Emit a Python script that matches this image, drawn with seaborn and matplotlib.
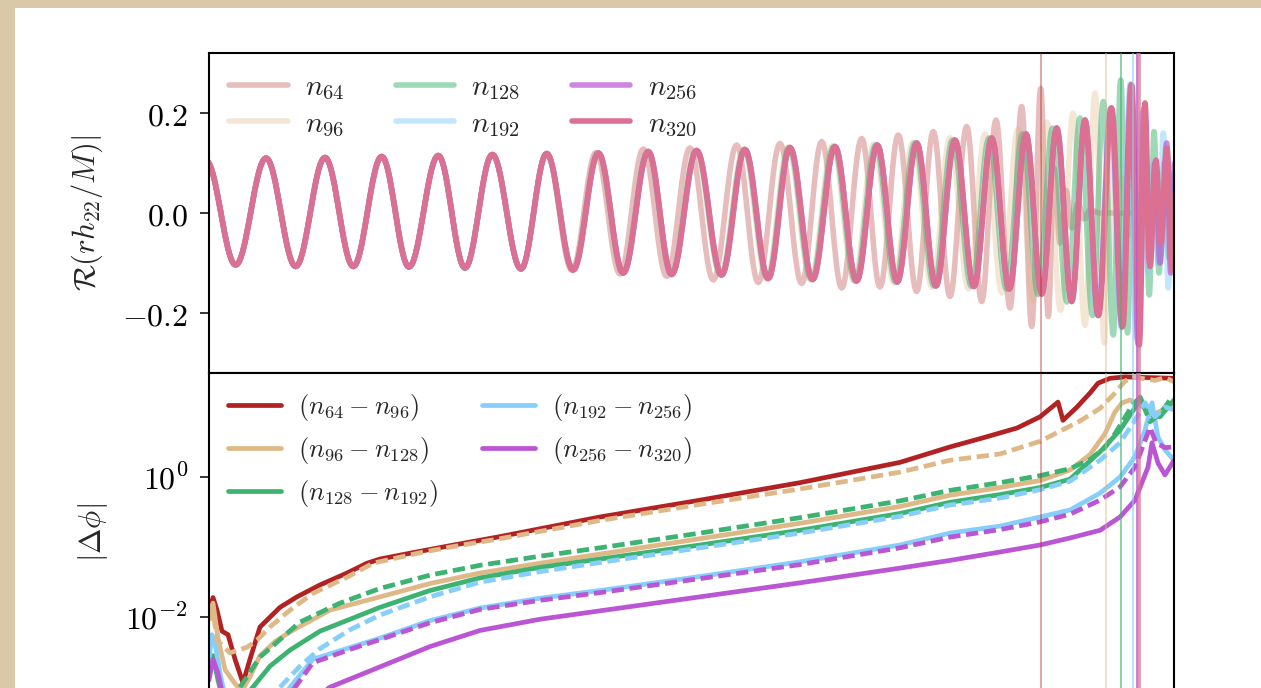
import numpy as np
import matplotlib
matplotlib.use("Agg")
import matplotlib.pyplot as plt
from matplotlib.patches import Rectangle
from matplotlib.ticker import NullLocator
import seaborn as sns

# ---------------- data ----------------
# time axis: 0 = left spine, 965 = right spine (no x tick labels visible)
t_max = 965

# top panel: extrema (peak / trough) of Re(r h22 / M) for each resolution
# early inspiral: all resolutions lie on top of each other
t_inspiral = [-3, 26.7, 57, 86.7, 116, 144.3, 172.7, 200, 229.3, 256, 283.3, 312, 337.7]
h_inspiral = [0.105, -0.104, 0.110, -0.107, 0.111, -0.107, 0.113, -0.108, 0.115, -0.110,
              0.117, -0.112, 0.119]

t_n320 = [364.3, 389.5, 414.3, 439.3, 462.7, 487.7, 512.7, 536, 559.3, 581, 603.7, 626,
          647.7, 668.3, 688.3, 707.7, 727, 746, 765, 782.7, 800.3, 817, 832.7, 847.7,
          862.7, 876, 889.5, 902.7, 913.7, 922.7, 930.3, 936, 941, 947, 952, 958, 963, 967]
h_n320 = [-0.114, 0.120, -0.120, 0.123, -0.123, 0.125, -0.124, 0.127, -0.131, 0.131,
          -0.133, 0.133, -0.136, 0.136, -0.138, 0.140, -0.146, 0.146, -0.147, 0.150,
          -0.152, 0.158, -0.162, 0.170, -0.177, 0.186, -0.205, 0.210, -0.227, 0.256,
          -0.264, 0.220, -0.107, 0.106, -0.060, 0.130, -0.114, 0.050]

t_n64 = [363, 387, 411, 434.3, 457.7, 481, 504.3, 527.7, 549.3, 571, 592.7, 612.7, 632.7,
         652.7, 671, 689.3, 707.7, 724.3, 741, 757.7, 772.7, 787, 801, 812.7, 822.7, 831.7,
         839.3, 845, 851, 857, 863, 869, 875, 881, 891, 967]
h_n64 = [-0.115, 0.121, -0.122, 0.128, -0.127, 0.130, -0.134, 0.136, -0.139, 0.139,
         -0.141, 0.143, -0.150, 0.149, -0.148, 0.156, -0.157, 0.163, -0.167, 0.173,
         -0.177, 0.186, -0.190, 0.213, -0.227, 0.249, -0.207, 0.090, -0.060, 0.045,
         -0.030, 0.020, -0.012, 0.006, 0.0, 0.0]

t_n96 = [363.5, 388.5, 413.5, 438.5, 462, 486.5, 511.5, 534.5, 557.5, 579, 601.5, 623.5,
         645, 665, 685, 704, 723, 741, 759.5, 776, 793, 809, 824, 838, 851.5, 864, 876,
         886, 895.3, 901, 907, 913, 919, 925, 931, 939, 967]
h_n96 = [-0.114, 0.120, -0.121, 0.123, -0.123, 0.125, -0.124, 0.128, -0.132, 0.132,
         -0.134, 0.135, -0.137, 0.138, -0.140, 0.142, -0.149, 0.151, -0.152, 0.158,
         -0.160, 0.168, -0.175, 0.182, -0.195, 0.200, -0.225, 0.240, -0.260, 0.170,
         -0.100, 0.070, -0.045, 0.030, -0.020, 0.010, 0.0]

t_n128 = [364, 389.2, 414, 439, 462.3, 487.2, 512, 535.3, 558.5, 580, 602.5, 624.7, 646.3,
          666.7, 686.5, 705.8, 725, 743.5, 762.5, 780, 797.5, 813.5, 829, 843.5, 858, 871,
          883.5, 894.3, 904.3, 911.7, 918.5, 924, 930, 935, 940.3, 945, 950, 955, 960,
          965, 969]
h_n128 = [-0.114, 0.120, -0.120, 0.123, -0.123, 0.125, -0.124, 0.127, -0.131, 0.131,
          -0.133, 0.133, -0.136, 0.136, -0.138, 0.140, -0.146, 0.146, -0.147, 0.150,
          -0.152, 0.158, -0.163, 0.170, -0.178, 0.190, -0.205, 0.223, -0.244, 0.266,
          -0.240, 0.120, -0.100, 0.100, -0.164, 0.163, -0.120, 0.100, -0.090, 0.080,
          -0.050]

# n192 and n256 follow n320 up to its peak at t = 876, then split
n_shared = 26
t_n192_tail = [888.5, 901.5, 912.5, 921, 927.5, 933, 939, 944, 949, 954.3, 959.3, 964, 968]
h_n192_tail = [-0.205, 0.210, -0.230, 0.258, -0.250, 0.200, -0.120, 0.100, -0.100, 0.160,
               -0.150, 0.100, -0.050]
t_n256_tail = [889, 902, 913, 922, 929, 935, 940.5, 946, 951, 957.7, 961.7, 966]
h_n256_tail = [-0.205, 0.210, -0.228, 0.257, -0.262, 0.210, -0.100, 0.100, -0.100, 0.140,
               -0.120, 0.100]

wave_labels = [r"$n_{64}$", r"$n_{96}$", r"$n_{128}$", r"$n_{192}$", r"$n_{256}$", r"$n_{320}$"]
wave_colors = ["#b22222", "#deb887", "#3cb371", "#87cefa", "#ba55d3", "#db7093"]
wave_alpha = [0.3, 0.35, 0.5, 0.5, 0.7, 1.0]
merger_t = [831.5, 897, 911.7, 923.7, 927.7, 929.7]

# bottom panel: log10 |dphi| of neighbouring resolutions
t_d1 = [0, 4, 8, 13, 19, 26, 34, 41, 51, 71, 88, 111, 138, 158, 171, 211, 241, 291, 391,
        491, 591, 691, 741, 774, 808, 831, 849, 854, 868, 881, 889, 901, 916, 941, 965]
lg_d1 = [-1.95, -1.72, -1.90, -2.20, -2.25, -2.60, -2.94, -2.60, -2.14, -1.86, -1.71,
         -1.54, -1.37, -1.23, -1.17, -1.06, -0.98, -0.85, -0.57, -0.33, -0.08, 0.21, 0.43,
         0.56, 0.70, 0.86, 1.07, 0.81, 1.00, 1.20, 1.34, 1.41, 1.43, 1.42, 1.41]

t_d2 = [0, 4, 9, 16, 26, 33, 41, 51, 66, 81, 121, 171, 221, 271, 331, 391, 491, 591, 691,
        741, 791, 831, 861, 881, 896, 906, 913, 921, 934, 944, 954, 965]
lg_d2 = [-1.95, -1.80, -2.30, -2.75, -2.95, -3.05, -2.85, -2.55, -2.35, -2.21, -1.90,
         -1.71, -1.52, -1.37, -1.23, -1.10, -0.88, -0.66, -0.42, -0.26, -0.15, -0.05, 0.10,
         0.32, 0.62, 0.93, 1.06, 1.10, 1.00, 0.89, 0.96, 1.06]

t_d3 = [0, 4, 9, 16, 26, 41, 61, 81, 111, 171, 221, 271, 331, 391, 491, 591, 691, 741, 791,
        831, 861, 891, 911, 926, 931, 936, 941, 951, 959, 965]
lg_d3 = [-2.75, -2.55, -2.90, -3.30, -3.50, -3.05, -2.70, -2.47, -2.20, -1.86, -1.62,
         -1.44, -1.29, -1.17, -0.97, -0.76, -0.52, -0.36, -0.25, -0.15, -0.03, 0.36, 0.67,
         0.99, 1.14, 1.00, 0.89, 0.86, 1.00, 1.10]

t_d4 = [0, 3, 7, 11, 17, 31, 61, 81, 104, 171, 221, 271, 331, 391, 491, 591, 691, 741, 791,
        831, 861, 891, 911, 926, 936, 943, 949, 956, 965]
lg_d4 = [-2.60, -2.25, -2.45, -2.80, -3.20, -3.60, -3.40, -3.00, -2.60, -2.30, -2.05,
         -1.87, -1.73, -1.62, -1.42, -1.21, -0.97, -0.80, -0.70, -0.57, -0.47, -0.23, 0.00,
         0.29, 0.67, 1.06, 0.57, 0.39, 0.24]

t_d5 = [0, 4, 9, 15, 31, 91, 121, 171, 221, 271, 331, 391, 491, 591, 691, 741, 791, 831,
        861, 891, 911, 926, 939, 943, 949, 956, 965]
lg_d5 = [-2.90, -2.60, -2.80, -3.20, -3.60, -3.30, -3.00, -2.71, -2.42, -2.19, -2.03,
         -1.91, -1.71, -1.51, -1.30, -1.19, -1.07, -0.97, -0.87, -0.76, -0.57, -0.33, 0.14,
         0.49, 0.20, 0.03, 0.24]

# dashed curves (drawn in the colour of the finer pair)
t_e2 = [0, 4, 8, 21, 38, 48, 61, 81, 104, 138, 164, 211, 241, 291, 391, 491, 591, 691, 741,
        791, 831, 871, 891, 906, 916, 926, 936, 946, 956, 965]
lg_e2 = [-2.05, -1.90, -2.33, -2.51, -2.43, -2.33, -2.14, -1.90, -1.66, -1.43, -1.23,
         -1.08, -1.00, -0.88, -0.62, -0.39, -0.17, 0.07, 0.24, 0.33, 0.51, 0.80, 0.98, 1.20,
         1.37, 1.43, 1.40, 1.38, 1.42, 1.36]

t_e3 = [31, 51, 91, 131, 171, 221, 271, 331, 391, 491, 591, 691, 741, 791, 831, 861, 881,
        896, 906, 916, 923, 931, 941, 951, 961, 965]
lg_e3 = [-3.0, -2.57, -2.07, -1.80, -1.59, -1.40, -1.26, -1.13, -1.01, -0.80, -0.58, -0.34,
         -0.19, -0.08, 0.02, 0.12, 0.25, 0.42, 0.62, 0.85, 1.02, 1.14, 0.79, 0.90, 1.10,
         1.08]

t_e4 = [71, 91, 111, 141, 171, 221, 271, 331, 391, 491, 591, 691, 741, 791, 831, 861, 891,
        911, 926, 936, 946, 956, 965]
lg_e4 = [-3.0, -2.70, -2.45, -2.18, -1.97, -1.71, -1.50, -1.35, -1.22, -1.01, -0.80, -0.56,
         -0.40, -0.30, -0.18, -0.06, 0.24, 0.49, 0.81, 1.06, 0.86, 1.00, 0.96]

t_e5 = [81, 104, 141, 171, 221, 271, 331, 391, 491, 591, 691, 741, 791, 831, 861, 891, 911,
        926, 941, 947, 956, 965]
lg_e5 = [-3.1, -2.65, -2.46, -2.32, -2.08, -1.89, -1.76, -1.65, -1.45, -1.25, -1.01, -0.857,
         -0.75, -0.64, -0.53, -0.33, -0.14, 0.14, 0.71, 0.49, 0.42, 0.43]

diff_labels = [r"$(n_{64}-n_{96})$", r"$(n_{96}-n_{128})$", r"$(n_{128}-n_{192})$",
               r"$(n_{192}-n_{256})$", r"$(n_{256}-n_{320})$"]
diff_colors = ["#b22222", "#deb887", "#3cb371", "#87cefa", "#ba55d3"]

top_yticks = [-0.2, 0.0, 0.2]
top_yticklabels = [r"$-0.2$", r"$0.0$", r"$0.2$"]
bot_yticks = [1e-2, 1e0]
bot_yticklabels = [r"$10^{-2}$", r"$10^{0}$"]


def smooth_wave(t_ext, h_ext, n=18):
    # draw each half cycle between two read extrema with a cosine shape
    tt, hh = [], []
    for i in range(len(t_ext) - 1):
        s = np.linspace(0, 1, n, endpoint=False)
        tt.append(t_ext[i] + s * (t_ext[i + 1] - t_ext[i]))
        hh.append(h_ext[i] + (h_ext[i + 1] - h_ext[i]) * (1 - np.cos(np.pi * s)) / 2)
    tt.append([t_ext[-1]])
    hh.append([h_ext[-1]])
    return np.concatenate(tt), np.concatenate(hh)


waves = [
    (t_inspiral + t_n64, h_inspiral + h_n64),
    (t_inspiral + t_n96, h_inspiral + h_n96),
    (t_inspiral + t_n128, h_inspiral + h_n128),
    (t_inspiral + t_n320[:n_shared] + t_n192_tail, h_inspiral + h_n320[:n_shared] + h_n192_tail),
    (t_inspiral + t_n320[:n_shared] + t_n256_tail, h_inspiral + h_n320[:n_shared] + h_n256_tail),
    (t_inspiral + t_n320, h_inspiral + h_n320),
]
solid = [(t_d1, lg_d1), (t_d2, lg_d2), (t_d3, lg_d3), (t_d4, lg_d4), (t_d5, lg_d5)]
dashed = [(t_e2, lg_e2, 1), (t_e3, lg_e3, 2), (t_e4, lg_e4, 3), (t_e5, lg_e5, 4)]

# ---------------- style ----------------
sns.set_theme(style="ticks")
plt.rcParams.update({
    "mathtext.fontset": "cm",
    "font.family": ["DejaVu Serif"],
    "axes.linewidth": 1.5,
    "axes.edgecolor": "black",
    "axes.facecolor": "white",
})

W, H = 1261, 688
fig = plt.figure(figsize=(W / 100, H / 100), dpi=100, facecolor="#d9c9a9")
fig.add_artist(Rectangle((15 / W, 0), 1, 1 - 8 / H, transform=fig.transFigure,
                         facecolor="white", edgecolor="none", zorder=-10))

ax1 = fig.add_axes([209 / W, 1 - 373 / H, 965 / W, 320 / H])
ax2 = fig.add_axes([209 / W, 1 - 720 / H, 965 / W, 347 / H])

# ---------------- top panel ----------------
for (tx, hx), lab, col, al in zip(waves, wave_labels, wave_colors, wave_alpha):
    tt, hh = smooth_wave(tx, hx)
    sns.lineplot(x=tt, y=hh, ax=ax1, color=col, alpha=al, lw=4.0, label=lab,
                 estimator=None, sort=False)

for tm, col, al in zip(merger_t, wave_colors, wave_alpha):
    lw = 2.6 if col == "#db7093" else 1.4
    for ax in (ax1, ax2):
        ax.axvline(tm, color=col, alpha=min(al + 0.1, 0.75), lw=lw, zorder=5)

ax1.set_xlim(0, t_max)
ax1.set_ylim(-0.32, 0.32)
ax1.set_yticks(top_yticks, labels=top_yticklabels)
ax1.tick_params(axis="x", bottom=False, labelbottom=False)
ax1.set_ylabel(r"$\mathcal{R}(rh_{22}/M)|$", fontsize=22)
ax1.yaxis.set_label_coords(-0.108, 0.5)
ax1.legend(loc="upper left", ncol=3, frameon=False, fontsize=21, handlelength=2.0,
           handletextpad=0.6, columnspacing=1.75, labelspacing=0.25,
           borderaxespad=0.4, borderpad=0.3)

# ---------------- bottom panel ----------------
for (tx, lg), lab, col in zip(solid, diff_labels, diff_colors):
    sns.lineplot(x=np.array(tx), y=10.0 ** np.array(lg), ax=ax2, color=col, lw=3.4,
                 label=lab, estimator=None, sort=False)
for tx, lg, k in dashed:
    sns.lineplot(x=np.array(tx), y=10.0 ** np.array(lg), ax=ax2, color=diff_colors[k],
                 lw=3.4, ls=(0, (2.6, 1.2)), label="_nolegend_", estimator=None, sort=False)

ax2.set_yscale("log")
ax2.set_xlim(0, t_max)
ax2.set_ylim(3.4e-4, 30.6)
ax2.set_yticks(bot_yticks, labels=bot_yticklabels)
ax2.yaxis.set_minor_locator(NullLocator())
ax2.tick_params(axis="x", bottom=False, labelbottom=False)
ax2.set_ylabel(r"$|\Delta\phi|$", fontsize=22)
ax2.yaxis.set_label_coords(-0.103, 0.54)
h2, l2 = ax2.get_legend_handles_labels()
ax2.legend(h2[:5], l2[:5], loc="upper left", ncol=2, frameon=False, fontsize=19,
           handlelength=2.0, handletextpad=0.65, columnspacing=1.67, labelspacing=0.45,
           borderaxespad=0.42, borderpad=0.3)

for ax in (ax1, ax2):
    ax.tick_params(axis="y", direction="out", length=6.5, width=1.1, labelsize=23,
                   pad=8.5, colors="black")
    for sp in ax.spines.values():
        sp.set_visible(True)
        sp.set_linewidth(1.5)
        sp.set_color("black")

fig.savefig("out.png", dpi=100, facecolor=fig.get_facecolor())
